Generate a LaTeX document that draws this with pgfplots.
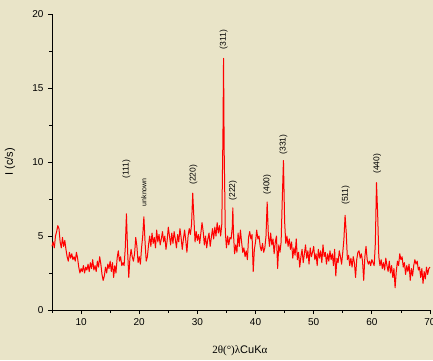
\documentclass[border=0pt]{standalone}
\usepackage{pgfplots}
\pgfplotsset{compat=1.18}
\usepackage{fontspec}
\setmainfont{Liberation Sans}
\newfontfamily\serif{Liberation Serif}
\definecolor{bg}{RGB}{233,228,200}
\pgfplotstableread{
x y
5.0 4.3
5.2 4.6
5.4 4.2
5.6 5.0
5.8 5.3
6.0 5.7
6.2 5.5
6.4 4.6
6.6 4.2
6.8 4.9
7.0 4.3
7.2 4.7
7.4 4.1
7.6 3.6
7.8 3.3
8.0 3.9
8.2 3.5
8.4 3.8
8.6 3.4
8.8 3.6
9.0 3.3
9.2 3.9
9.4 3.5
9.6 2.9
9.8 2.5
10.0 2.8
10.2 2.6
10.4 3.0
10.6 2.5
10.8 2.9
11.0 2.7
11.2 3.1
11.4 2.6
11.6 3.2
11.8 2.8
12.0 3.4
12.2 2.7
12.4 3.0
12.6 2.6
12.8 3.3
13.0 2.9
13.2 3.6
13.4 3.1
13.6 2.4
13.8 2.0
14.0 2.3
14.2 2.9
14.4 2.5
14.6 3.1
14.8 2.8
15.0 3.3
15.2 2.6
15.4 3.2
15.6 2.2
15.8 3.0
16.0 2.5
16.2 3.5
16.4 4.0
16.6 3.3
16.8 3.6
17.0 3.0
17.2 3.2
17.4 3.0
17.6 4.2
17.8 6.5
18.0 4.0
18.2 2.2
18.4 3.5
18.6 4.1
18.8 3.6
19.0 3.3
19.2 3.8
19.4 4.9
19.6 4.3
19.8 3.2
20.0 3.6
20.2 3.1
20.4 4.2
20.6 5.0
20.8 6.3
21.0 4.6
21.2 3.3
21.4 3.6
21.6 4.4
21.8 5.0
22.0 4.3
22.2 5.2
22.4 4.5
22.6 4.9
22.8 4.2
23.0 5.4
23.2 4.6
23.4 5.1
23.6 4.4
23.8 4.8
24.0 5.3
24.2 4.6
24.4 5.0
24.6 4.1
24.8 4.7
25.0 5.6
25.2 5.0
25.4 4.4
25.6 5.2
25.8 4.5
26.0 5.3
26.2 4.8
26.4 4.2
26.6 5.1
26.8 4.6
27.0 5.5
27.2 4.9
27.4 4.1
27.6 4.8
27.8 5.4
28.0 4.7
28.2 3.9
28.4 5.0
28.6 5.5
28.8 5.1
29.0 5.8
29.2 7.9
29.4 6.2
29.6 4.6
29.8 5.3
30.0 4.7
30.2 5.1
30.4 4.5
30.6 5.2
30.8 5.9
31.0 5.3
31.2 4.4
31.4 5.0
31.6 4.2
31.8 4.8
32.0 5.2
32.2 4.3
32.4 4.9
32.6 5.5
32.8 4.8
33.0 5.6
33.2 5.0
33.4 5.9
33.6 5.2
33.8 5.7
34.0 5.0
34.2 5.8
34.4 12.0
34.5 17.0
34.6 11.0
34.8 5.3
35.0 4.2
35.2 5.0
35.4 4.4
35.6 4.9
35.8 4.8
36.0 5.6
36.1 6.9
36.2 5.2
36.4 3.8
36.6 4.4
36.8 3.9
37.0 5.2
37.2 4.3
37.4 5.4
37.6 4.6
37.8 3.9
38.0 4.2
38.2 3.6
38.4 4.0
38.6 3.4
38.8 4.9
39.0 5.3
39.2 4.8
39.4 5.1
39.6 2.6
39.8 4.1
40.0 4.6
40.2 5.4
40.4 4.8
40.6 5.0
40.8 4.3
41.0 4.0
41.2 4.5
41.4 3.9
41.6 4.2
41.8 5.0
42.0 7.3
42.2 5.1
42.4 4.3
42.6 5.2
42.8 4.4
43.0 4.8
43.2 3.8
43.4 4.6
43.6 5.0
43.8 2.8
44.0 4.4
44.2 3.9
44.4 4.6
44.6 7.5
44.8 10.1
45.0 6.0
45.2 4.5
45.4 5.0
45.6 4.3
45.8 4.8
46.0 4.1
46.2 4.6
46.4 3.5
46.6 4.2
46.8 3.7
47.0 4.8
47.2 3.4
47.4 3.9
47.6 2.9
47.8 3.6
48.0 4.1
48.2 3.2
48.4 3.8
48.6 4.4
48.8 3.5
49.0 4.0
49.2 3.1
49.4 4.2
49.6 3.6
49.8 3.9
50.0 4.3
50.2 3.4
50.4 3.8
50.6 3.0
50.8 4.1
51.0 3.5
51.2 4.0
51.4 3.2
51.6 4.4
51.8 3.6
52.0 3.9
52.2 3.1
52.4 3.8
52.6 3.3
52.8 4.0
53.0 3.4
53.2 3.8
53.4 3.0
53.6 4.1
53.8 2.3
54.0 3.5
54.2 3.2
54.4 4.0
54.6 3.6
54.8 3.1
55.0 3.9
55.2 4.8
55.4 6.4
55.6 5.2
55.8 3.4
56.0 3.7
56.2 3.0
56.4 3.5
56.6 2.9
56.8 3.6
57.0 3.2
57.2 2.2
57.4 3.4
57.6 3.9
57.8 4.0
58.0 3.5
58.2 3.8
58.4 3.3
58.6 2.0
58.8 3.6
59.0 4.3
59.2 3.4
59.4 3.1
59.6 3.3
59.8 3.0
60.0 3.4
60.2 3.2
60.4 3.0
60.6 4.5
60.8 8.6
61.0 6.5
61.2 3.6
61.4 3.0
61.6 3.4
61.8 2.8
62.0 3.2
62.2 2.7
62.4 3.5
62.6 3.0
62.8 2.6
63.0 3.3
63.2 2.5
63.4 3.0
63.6 2.2
63.8 2.8
64.0 1.5
64.2 2.6
64.4 3.3
64.6 3.0
64.8 3.8
65.0 3.4
65.2 3.6
65.4 2.9
65.6 3.2
65.8 2.4
66.0 3.0
66.2 2.6
66.4 3.1
66.6 2.0
66.8 2.8
67.0 2.3
67.2 3.0
67.4 3.4
67.6 3.1
67.8 3.3
68.0 2.7
68.2 2.9
68.4 2.2
68.6 2.8
68.8 1.8
69.0 2.6
69.2 2.1
69.4 2.9
69.6 2.4
69.8 2.8
70.0 2.9
}\xrd
\begin{document}
\begin{tikzpicture}
\fill[bg] (-52pt,-50pt) rectangle (381pt,310pt);
\useasboundingbox (-52pt,-50pt) rectangle (381pt,310pt);
\begin{axis}[
  at={(0pt,0pt)}, anchor=south west,
  scale only axis, width=378pt, height=296pt,
  xmin=5, xmax=70, ymin=0, ymax=20,
  axis x line*=bottom, axis y line*=left,
  axis line style={-, black, line width=0.8pt},
  xtick={10,20,...,70}, minor xtick={5,15,...,65},
  ytick={0,5,...,20}, minor ytick={2.5,7.5,...,17.5},
  tick align=outside,
  major tick length=4pt, minor tick length=2.5pt,
  every tick/.style={black, line width=0.8pt},
  tick label style={font=\fontsize{10}{12}\selectfont},
  /pgf/number format/assume math mode=true,
  xticklabel style={yshift=-1pt},
  yticklabel style={xshift=-1pt},
  xlabel={{\serif 2θ(°)λ}CuK{\serif α}},
  xlabel style={font=\fontsize{11}{13}\selectfont, at={(axis description cs:0.497,-0.139)}, anchor=center},
  ylabel={I (c/s)},
  ylabel style={font=\fontsize{11}{13}\selectfont, at={(axis description cs:-0.111,0.5)}, anchor=center},
  clip=false,
]
\addplot[red, line width=1pt, line join=round] table[x=x,y=y]{\xrd};
\begin{scope}[every node/.style={rotate=90, anchor=west, inner sep=0pt, font=\fontsize{8.5}{10}\selectfont}]
\node at (axis cs:17.8,8.9) {(111)};
\node[font=\fontsize{7}{8}\selectfont] at (axis cs:20.8,7.0) {unknown};
\node at (axis cs:29.3,8.45) {(220)};
\node at (axis cs:34.5,17.6) {(311)};
\node at (axis cs:36.1,7.4) {(222)};
\node at (axis cs:42.0,7.8) {(400)};
\node at (axis cs:44.8,10.5) {(331)};
\node at (axis cs:55.5,7.1) {(511)};
\node at (axis cs:60.9,9.2) {(440)};
\end{scope}
\end{axis}
\end{tikzpicture}
\end{document}
